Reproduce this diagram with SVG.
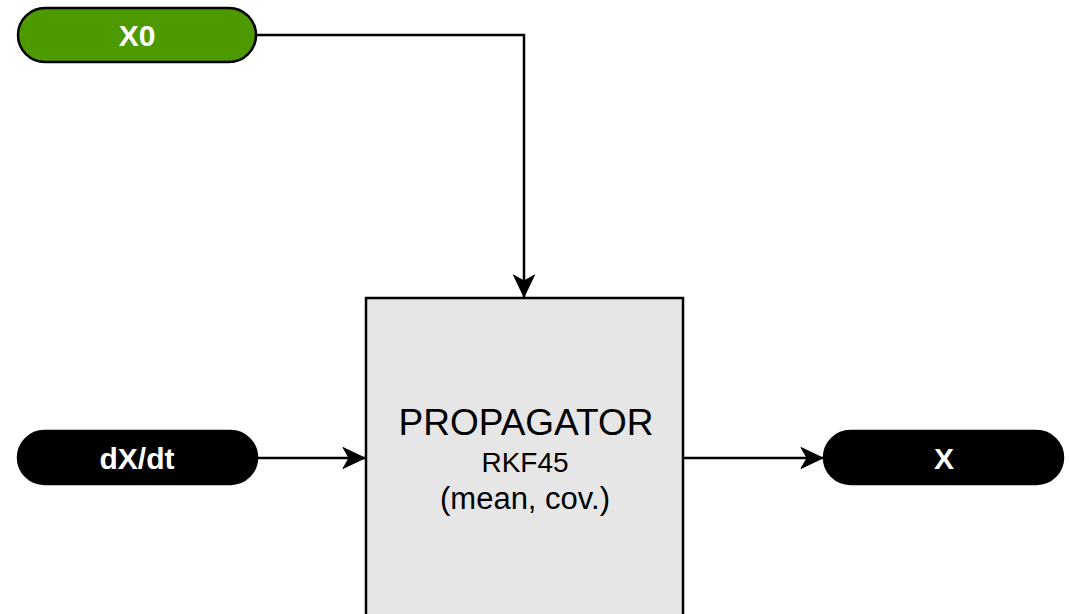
<svg xmlns="http://www.w3.org/2000/svg" width="1070" height="614" viewBox="0 0 1070 614">
  <style>
    .pill { stroke: #000; stroke-width: 2.5; }
    .pill-text { font-family: "Liberation Sans", Arial, sans-serif; font-weight: bold; font-size: 30px; fill: #fff; text-anchor: middle; }
    .box { fill: #e6e6e6; stroke: #000; stroke-width: 2.5; }
    .box-text { font-family: "Liberation Sans", Arial, sans-serif; fill: #000; text-anchor: middle; }
    .wire { fill: none; stroke: #000; stroke-width: 2.5; }
  </style>
  <defs>
    <marker id="arrow" viewBox="0 0 24 24" refX="23" refY="12" markerWidth="24" markerHeight="24" markerUnits="userSpaceOnUse" orient="auto">
      <path d="M1,1.5 L23,12 L1,22.5 L7,12 Z" fill="#000" stroke="#000" stroke-width="1"/>
    </marker>
  </defs>

  <g id="connectors">
    <path class="wire" d="M256,35 H524 V297" marker-end="url(#arrow)"/>
    <path class="wire" d="M257,458 H365" marker-end="url(#arrow)"/>
    <path class="wire" d="M683,458 H823" marker-end="url(#arrow)"/>
  </g>

  <g id="node-x0">
    <rect class="pill" x="18" y="8" width="238" height="54" rx="27" ry="27" fill="#4d9900"/>
    <text class="pill-text" x="137" y="46">X0</text>
  </g>

  <g id="node-dxdt">
    <rect class="pill" x="18" y="431" width="239" height="53" rx="26.5" ry="26.5" fill="#000"/>
    <text class="pill-text" x="137" y="469">dX/dt</text>
  </g>

  <g id="node-propagator">
    <rect class="box" x="366" y="298" width="317" height="330"/>
    <text class="box-text" x="526" y="435" font-size="37">PROPAGATOR</text>
    <text class="box-text" x="525" y="472" font-size="28">RKF45</text>
    <text class="box-text" x="525" y="509" font-size="31">(mean, cov.)</text>
  </g>

  <g id="node-x">
    <rect class="pill" x="824" y="431" width="239" height="53" rx="26.5" ry="26.5" fill="#000"/>
    <text class="pill-text" x="944" y="469">X</text>
  </g>
</svg>
